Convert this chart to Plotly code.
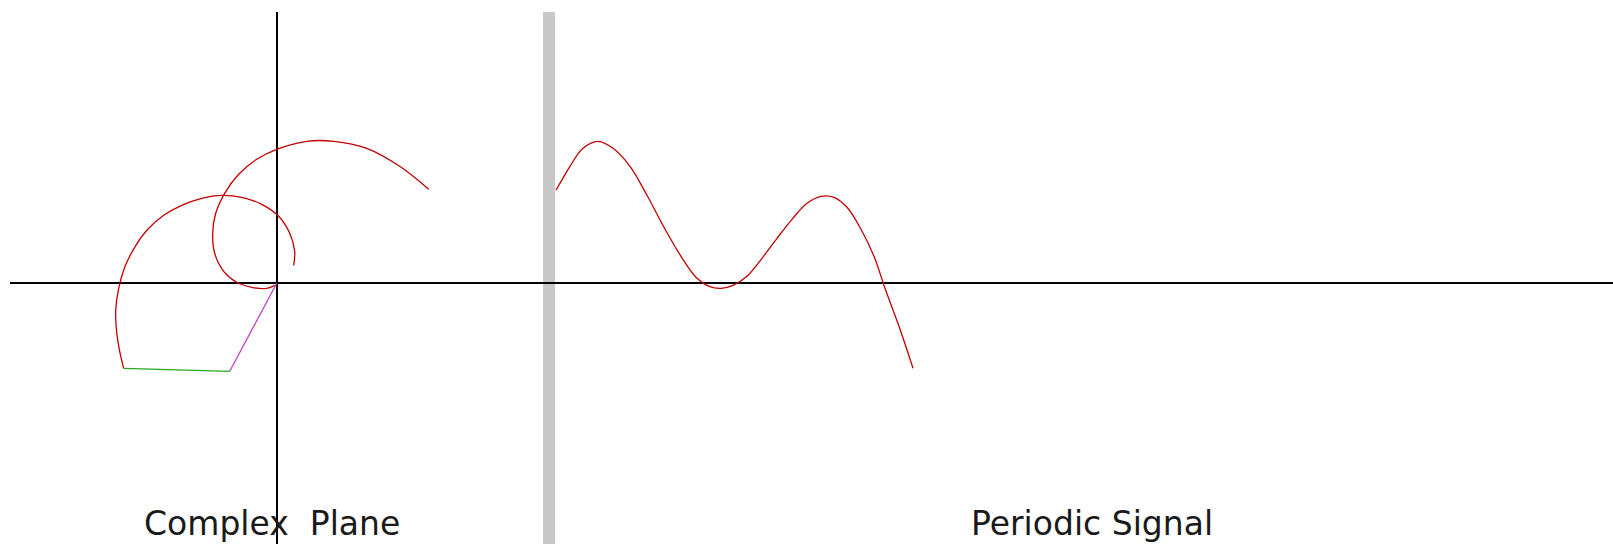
import plotly.graph_objects as go

# complex plane: traced tip of the rotating vectors (units of the plane)
trace_a_x = [1.52, 1.23, 0.90, 0.57, 0.30, 0.00, -0.20, -0.38, -0.52, -0.61, -0.64, -0.62, -0.53, -0.40, -0.25, -0.10, -0.02]
trace_a_y = [0.94, 1.17, 1.35, 1.42, 1.42, 1.34, 1.24, 1.09, 0.90, 0.70, 0.50, 0.30, 0.12, 0.01, -0.04, -0.05, -0.02]

trace_b_x = [0.17, 0.18, 0.13, 0.02, -0.15, -0.35, -0.55, -0.75, -0.95, -1.13, -1.29, -1.42, -1.52, -1.58, -1.61, -1.60, -1.57, -1.53]
trace_b_y = [0.18, 0.32, 0.50, 0.67, 0.79, 0.86, 0.88, 0.85, 0.78, 0.68, 0.54, 0.36, 0.16, -0.05, -0.27, -0.49, -0.68, -0.85]

# phasor chain: origin -> first vector tip -> second vector tip
phasor_x = [0.0, -0.47, -1.53]
phasor_y = [0.0, -0.88, -0.85]

# periodic signal (time, value)
signal_t = [0.07, 0.21, 0.34, 0.49, 0.64, 0.81, 0.98, 1.15, 1.32, 1.48, 1.60, 1.72, 1.84,
            1.98, 2.13, 2.28, 2.43, 2.58, 2.72, 2.85, 2.98, 3.12, 3.25, 3.36, 3.50, 3.64]
signal_v = [0.93, 1.17, 1.35, 1.42, 1.35, 1.17, 0.88, 0.56, 0.27, 0.05, -0.03, -0.05, -0.02,
            0.07, 0.25, 0.45, 0.64, 0.80, 0.87, 0.86, 0.76, 0.54, 0.27, -0.05, -0.43, -0.85]

labels = ["Complex  Plane", "Periodic Signal"]

red = "#c00000"

fig = go.Figure()

fig.add_trace(go.Scatter(x=trace_a_x, y=trace_a_y, mode="lines",
                         line=dict(color=red, width=1.3, shape="spline")))
fig.add_trace(go.Scatter(x=trace_b_x, y=trace_b_y, mode="lines",
                         line=dict(color=red, width=1.3, shape="spline")))
# first vector (magenta), second vector (green)
fig.add_trace(go.Scatter(x=phasor_x[0:2], y=phasor_y[0:2], mode="lines",
                         line=dict(color="#c040c0", width=1.3)))
fig.add_trace(go.Scatter(x=phasor_x[1:3], y=phasor_y[1:3], mode="lines",
                         line=dict(color="#22a822", width=1.3)))
fig.add_trace(go.Scatter(x=signal_t, y=signal_v, mode="lines", xaxis="x2",
                         line=dict(color=red, width=1.3, shape="spline")))

fig.add_annotation(x=-0.05, y=-2.40, xref="x", yref="y", text=labels[0],
                   showarrow=False, font=dict(family="DejaVu Sans", size=33, color="#1a1a1a"))
fig.add_annotation(x=5.43, y=-2.40, xref="x2", yref="y", text=labels[1],
                   showarrow=False, font=dict(family="DejaVu Sans", size=33, color="#1a1a1a"))

axis_common = dict(showgrid=False, showticklabels=False, ticks="", showline=False)

fig.update_layout(
    width=1613, height=544,
    margin=dict(l=10, r=0, t=12, b=0),
    paper_bgcolor="white", plot_bgcolor="white",
    showlegend=False,
    xaxis=dict(range=[-2.667, 13.363], zeroline=True, zerolinecolor="black",
               zerolinewidth=2, **axis_common),
    xaxis2=dict(range=[-5.39, 10.64], overlaying="x", zeroline=True,
                zerolinecolor="#c8c8c8", zerolinewidth=12, **axis_common),
    yaxis=dict(range=[-2.607, 2.713], zeroline=True, zerolinecolor="black",
               zerolinewidth=2, **axis_common),
)

# drop the page's default body margin so the figure sits at the top-left corner
fig.write_html("out.html", config={"displayModeBar": False},
               post_script="document.body.style.margin='0px';")
